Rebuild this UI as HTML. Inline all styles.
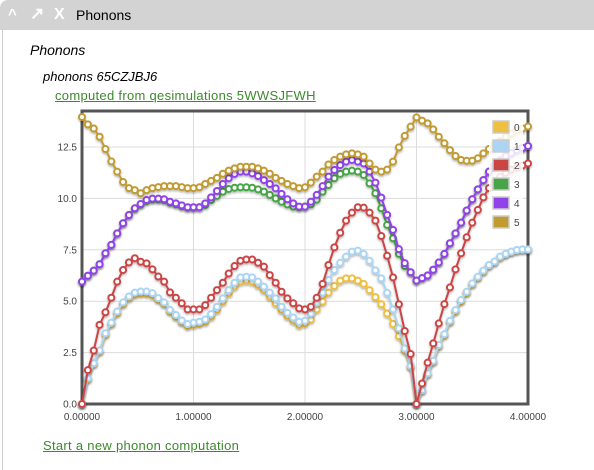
<!DOCTYPE html>
<html><head><meta charset="utf-8"><style>
body{margin:0;width:594px;height:467px;overflow:hidden;background:#fff;font-family:"Liberation Sans",sans-serif;position:relative}
.hdr{position:absolute;left:0;top:0;width:594px;height:30px;background:#d3d3d3;border-top-left-radius:8px}
.panel{position:absolute;left:2px;top:30px;width:600px;height:440px;border-left:1px solid #ccc}
.t{position:absolute;white-space:nowrap}
a{color:#3c8a2e;text-decoration:underline}
</style></head><body>
<div class="hdr">
<span class="t" style="left:8px;top:6px;color:#fff;font-size:15px;font-weight:bold">^</span>
<span class="t" style="left:30px;top:4px;color:#fff;font-size:17px;font-weight:bold">&#8599;</span>
<span class="t" style="left:54px;top:6px;color:#fff;font-size:16px;font-weight:bold">X</span>
<span class="t" style="left:76px;top:7px;color:#000;font-size:14px">Phonons</span>
</div>
<div class="panel"></div>
<div class="t" style="left:30px;top:42px;font-size:14px;font-style:italic">Phonons</div>
<div class="t" style="left:43px;top:69px;font-size:13px;font-style:italic">phonons 65CZJBJ6</div>
<a class="t" style="left:55px;top:88px;font-size:13px;letter-spacing:0.3px">computed from qesimulations 5WWSJFWH</a>
<a class="t" style="left:43px;top:438px;font-size:13px;letter-spacing:0.3px">Start a new phonon computation</a>
<svg id="chart" width="594" height="467" style="position:absolute;left:0;top:0">
<defs><filter id="sh" x="-20%" y="-20%" width="140%" height="140%"><feDropShadow dx="0" dy="1.5" stdDeviation="1" flood-color="#000" flood-opacity="0.3"/></filter></defs>
</svg>
<script>
const xTicks=[0,1,2,3,4];
const xTickLabels=["0.00000","1.00000","2.00000","3.00000","4.00000"];
const yTicks=[0,2.5,5,7.5,10,12.5];
const yTickLabels=["0.0","2.5","5.0","7.5","10.0","12.5"];
const seriesNames=["0","1","2","3","4","5"];
const seriesColors=["#efbf3f","#acd5f3","#cc4545","#47a447","#9142ea","#c19b30"];
const s0=[0,1.2,1.95,2.55,3.38,3.9,4.42,4.85,5.15,5.33,5.38,5.38,5.3,5.08,4.87,4.5,4.25,3.98,3.8,3.85,
3.92,4.0,4.25,4.57,4.98,5.38,5.71,5.95,6.0,5.95,5.79,5.54,5.22,4.9,4.57,4.28,4.05,3.84,3.92,
4.11,4.6,4.98,5.42,5.74,6.0,6.11,6.11,6.0,5.84,5.54,5.2,4.85,4.4,3.9,3.3,2.6,1.8,0,
0.65,1.45,2.05,2.82,3.35,4.0,4.52,5.0,5.4,5.82,6.14,6.44,6.72,6.9,7.14,7.28,7.39,7.47,7.5,7.5];
const s1=[0,1.25,1.98,2.6,3.44,3.96,4.5,4.94,5.23,5.42,5.47,5.47,5.39,5.15,4.94,4.58,4.33,4.06,3.89,3.96,
4.0,4.11,4.38,4.73,5.14,5.54,5.9,6.16,6.19,6.16,5.95,5.71,5.42,5.14,4.73,4.44,4.21,4.0,4.05,
4.41,4.93,5.42,6.03,6.52,6.87,7.17,7.41,7.46,7.3,6.97,6.5,6.11,5.41,4.6,3.68,2.7,1.85,0,
0.68,1.49,2.1,2.87,3.4,4.05,4.57,5.06,5.46,5.87,6.19,6.49,6.76,6.93,7.17,7.3,7.41,7.49,7.52,7.52];
const s2=[0,1.65,2.6,3.85,4.46,5.17,5.95,6.52,6.89,7.09,6.92,6.84,6.55,6.2,5.95,5.43,5.17,4.9,4.6,4.6,
4.6,4.81,5.17,5.54,5.9,6.35,6.71,6.97,7.03,7.03,6.87,6.68,6.27,5.9,5.46,5.14,4.9,4.65,4.6,
4.73,5.17,5.84,6.76,7.62,8.33,8.92,9.31,9.57,9.55,9.31,8.92,8.17,7.21,6.16,4.85,3.55,2.43,0,
1.0,2.01,2.95,3.92,4.86,5.67,6.55,7.33,8.11,8.82,9.44,10.05,10.5,10.8,11.05,11.25,11.4,11.5,11.6,11.7];
const s3=[5.95,6.24,6.49,6.8,7.33,7.74,8.3,8.79,9.19,9.5,9.7,9.88,9.95,9.95,9.92,9.8,9.72,9.62,9.55,9.55,
9.57,9.68,9.92,10.12,10.33,10.46,10.52,10.54,10.54,10.52,10.44,10.33,10.17,10.0,9.84,9.71,9.6,9.57,9.6,
9.71,9.94,10.33,10.65,10.98,11.19,11.3,11.35,11.3,11.14,10.73,10.25,9.52,8.71,8.06,7.3,6.71,6.41,6.0,
6.12,6.25,6.53,6.88,7.3,7.82,8.3,8.82,9.41,9.96,10.44,10.89,11.3,11.6,11.85,12.05,12.2,12.35,12.45,12.55];
const s4=[5.95,6.24,6.49,6.8,7.33,7.74,8.3,8.79,9.19,9.52,9.73,9.92,9.99,9.99,9.96,9.84,9.76,9.66,9.57,9.57,
9.57,9.76,10.05,10.36,10.7,10.98,11.19,11.3,11.3,11.22,11.09,10.89,10.7,10.49,10.22,9.96,9.76,9.6,9.6,
9.84,10.17,10.6,11.06,11.38,11.62,11.79,11.87,11.79,11.7,11.3,10.77,10.04,9.2,8.47,7.53,6.85,6.41,6.0,
6.12,6.25,6.53,6.88,7.3,7.82,8.3,8.82,9.41,9.96,10.44,10.89,11.3,11.6,11.85,12.05,12.2,12.35,12.45,12.55];
const s5=[13.96,13.6,13.4,13.0,12.4,11.8,11.3,10.8,10.5,10.4,10.25,10.4,10.5,10.55,10.6,10.6,10.6,10.55,10.5,10.5,
10.54,10.7,10.85,11.0,11.2,11.35,11.46,11.54,11.54,11.54,11.46,11.35,11.2,11.0,10.85,10.7,10.6,10.5,10.54,
10.77,11.06,11.3,11.65,11.87,12.03,12.14,12.19,12.14,12.03,11.7,11.4,11.3,11.4,11.79,12.48,13.04,13.49,13.94,
13.78,13.65,13.36,13.0,12.68,12.35,12.06,11.87,11.83,11.83,11.95,12.19,12.4,12.6,12.8,13.0,13.15,13.3,13.4,13.5];
const series=[s0,s1,s2,s3,s4,s5];
// k-path: 57 steps from 0 to 3, 20 steps from 3 to 4
const xs=[];
for(let i=0;i<=57;i++)xs.push(i*3/57);
for(let i=1;i<=20;i++)xs.push(3+i/20);

const L=82,R=528,T=111,B=404,YMAX=(404-111)/20.56;
const X=v=>L+(R-L)*v/4;
const Y=v=>B-(B-T)*v/YMAX;
const svg=document.getElementById('chart');
const NS='http://www.w3.org/2000/svg';
function mk(tag,attrs,parent){const e=document.createElementNS(NS,tag);for(const k in attrs)e.setAttribute(k,attrs[k]);(parent||svg).appendChild(e);return e;}
yTicks.forEach((v,i)=>{
  const g=mk('line',{x1:L,x2:R,y1:Y(v),y2:Y(v),stroke:'#dcdcdc','stroke-width':1});
  
  
  const t=mk('text',{x:L-5,y:Y(v)+3.5,'text-anchor':'end','font-size':10,fill:'#444','font-family':'Liberation Sans, sans-serif'});
  t.textContent=yTickLabels[i];
  
  
});
xTicks.forEach((v,i)=>{
  const g=mk('line',{x1:X(v),x2:X(v),y1:T,y2:B,stroke:'#dcdcdc','stroke-width':1});
  
  
  const t=mk('text',{x:X(v),y:B+16,'text-anchor':'middle','font-size':10,fill:'#444','font-family':'Liberation Sans, sans-serif'});
  t.textContent=xTickLabels[i];
  
  
});
const frame=mk('rect',{x:L,y:T,width:R-L,height:B-T,fill:'none',stroke:'#555','stroke-width':3});


series.forEach((s,si)=>{
  const g=mk('g',{filter:'url(#sh)'});
  
  
  const p=mk('polyline',{points:s.map((v,i)=>X(xs[i])+','+Y(v)).join(' '),fill:'none',stroke:seriesColors[si],'stroke-width':2},g);
  
  
  s.forEach((v,i)=>{
    const c=mk('circle',{cx:X(xs[i]),cy:Y(v),r:3,fill:'#fff',stroke:seriesColors[si],'stroke-width':2},g);
    
    
  });
});
const legBg=mk('rect',{x:489,y:116,width:34,height:114,fill:'#fff','fill-opacity':0.85});


const legY=[127,146,165,184,203,222];
seriesNames.forEach((n,i)=>{
  const r=mk('rect',{x:493,y:legY[i]-6,width:16,height:12,fill:seriesColors[i],stroke:'#ccc','stroke-width':1.5});
  
  
  const t=mk('text',{x:514,y:legY[i]+4,'font-size':10,fill:'#444','font-family':'Liberation Sans, sans-serif'});
  t.textContent=n;
  
  
});
</script>
</body></html>
